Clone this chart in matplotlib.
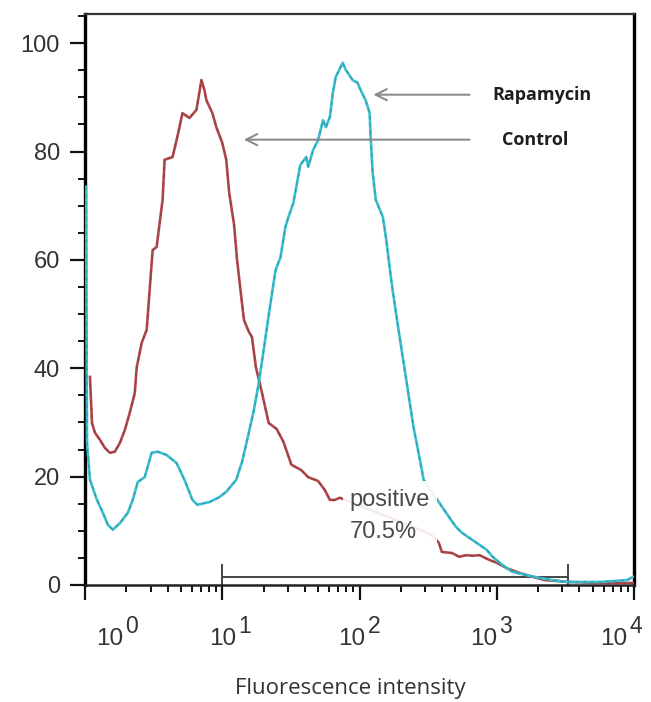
import numpy as np
import matplotlib
matplotlib.use('Agg')
import matplotlib.pyplot as plt
from matplotlib.ticker import FixedLocator, MultipleLocator, NullFormatter

# control (red) histogram
control_x = [1.087, 1.124, 1.181, 1.284, 1.396, 1.518, 1.649, 1.793, 1.949, 2.119,
             2.303, 2.381, 2.588, 2.814, 2.958, 3.110, 3.325, 3.675, 3.800, 4.130,
             4.345, 4.645, 4.876, 5.129, 5.768, 6.486, 7.047, 7.410, 7.655, 8.472,
             9.057, 10.0, 10.69, 11.23, 12.19, 12.82, 13.71, 14.39, 15.64, 16.44,
             17.58, 19.42, 21.79, 24.89, 27.94, 31.88, 37.64, 42.28, 49.89, 55.99,
             60.83, 66.07, 71.78, 302.9, 335.5, 378.0, 398.1, 472.3, 532.2, 599.8,
             664.0, 748.5, 887.4, 1000, 1183, 1472, 1832, 2240, 3410, 5650, 10000]
control_y = [38.4, 29.9, 28.1, 26.8, 25.3, 24.4, 24.6, 26.2, 28.6, 31.8,
             35.4, 40.2, 44.7, 47.1, 54.5, 61.8, 62.4, 71.1, 78.5, 78.8,
             79.0, 82.1, 84.5, 87.1, 86.2, 87.7, 93.2, 91.4, 89.5, 87.1,
             84.5, 81.6, 78.5, 72.4, 66.5, 60.0, 53.5, 48.9, 46.7, 45.8,
             40.2, 35.6, 29.9, 28.8, 26.4, 22.2, 21.2, 19.9, 19.2, 17.5,
             15.7, 15.7, 16.1, 9.8, 9.2, 7.8, 6.1, 5.9, 5.2, 5.5,
             5.4, 5.5, 4.6, 4.1, 3.1, 2.2, 1.5, 0.9, 0.55, 0.37, 0.37]

# rapamycin (cyan) histogram
rapa_x = [1.017, 1.034, 1.087, 1.222, 1.350, 1.468, 1.595, 1.793, 2.049, 2.227,
          2.421, 2.721, 3.059, 3.381, 3.928, 4.643, 5.306, 6.065, 6.592, 8.054,
          9.510, 10.69, 12.62, 13.93, 15.64, 16.99, 18.45, 20.04, 21.79, 24.45,
          26.56, 28.84, 30.33, 32.96, 36.99, 40.89, 42.28, 45.93, 49.89, 54.22,
          56.94, 60.83, 63.91, 67.16, 75.46, 79.30, 89.13, 96.80, 101.7, 110.7,
          118.5, 120.5, 124.7, 131.4, 148.0, 155.9, 166.8, 175.5, 191.1, 208.2,
          226.8, 247.1, 269.2, 293.3, 464.2, 505.8, 559.8, 630.6, 748.5, 843.3,
          933.3, 1052, 1183, 1309, 1657, 2061, 2564, 3244, 5650, 8892, 9840]
rapa_y = [73.5, 26.2, 19.4, 15.7, 13.3, 11.1, 10.2, 11.4, 13.3, 15.7,
          19.0, 19.9, 24.4, 24.6, 24.0, 22.5, 19.4, 15.7, 14.8, 15.3,
          16.2, 17.2, 19.4, 22.7, 28.2, 32.3, 37.3, 43.4, 49.8, 58.1,
          60.5, 66.1, 67.9, 70.5, 77.5, 79.0, 77.2, 80.3, 82.1, 85.8,
          84.5, 86.4, 90.8, 93.8, 96.4, 95.1, 93.2, 92.7, 91.4, 89.5,
          87.1, 82.7, 76.1, 71.1, 67.9, 64.1, 58.1, 53.9, 47.6, 41.5,
          35.4, 29.2, 24.4, 19.4, 12.0, 10.7, 9.6, 8.7, 7.4, 6.5,
          5.2, 4.1, 3.1, 2.4, 1.8, 1.3, 0.9, 0.55, 0.55, 0.9, 1.5]

gate_range = [10, 3300]
gate_label = "positive\n70.5%"
x_ticks = [1, 10, 100, 1000, 10000]
x_exponents = ['0', '1', '2', '3', '4']
y_ticks = [0, 20, 40, 60, 80, 100]

plt.rcParams['font.family'] = ['Liberation Sans', 'DejaVu Sans']

fig = plt.figure(figsize=(6.51, 7.02), dpi=100)
ax = fig.add_axes([0.1306, 0.1667, 0.8433, 0.8134])

# coloured traces with a faint darker dash on top (scanned look)
ax.plot(control_x, control_y, color='#b3484c', lw=1.9, zorder=3)
ax.plot(control_x, control_y, color='#5a3a3a', lw=0.9, dashes=(3, 3), alpha=0.45, zorder=3)
ax.plot(rapa_x, rapa_y, color='#3ac0d0', lw=1.9, zorder=3)
ax.plot(rapa_x, rapa_y, color='#2d6f78', lw=0.9, dashes=(3, 3), alpha=0.45, zorder=3)

ax.set_xscale('log')
ax.set_xlim(1, 10000)
ax.set_ylim(0, 105.4)

# gate bracket
ax.plot(gate_range, [1.5, 1.5], color='#444444', lw=1.4, zorder=2)
for gx in gate_range:
    ax.plot([gx, gx], [0, 3.7], color='#444444', lw=1.4, zorder=2)

ax.text(84.7, 17.8, gate_label, fontsize=17, color='#4a4a4a', va='top', ha='left',
        linespacing=1.6, zorder=5,
        bbox=dict(boxstyle='square,pad=0.3', fc='white', ec='none', alpha=0.9))

arrow = dict(arrowstyle='->', color='#8c8c8c', lw=1.5, mutation_scale=20)
ax.annotate('', xy=(120.5, 90.5), xytext=(664, 90.5), arrowprops=arrow)
ax.annotate('', xy=(13.7, 82.2), xytext=(664, 82.2), arrowprops=arrow)
ax.text(933, 90.5, 'Rapamycin', fontsize=13, fontweight='bold', family='Open Sans',
        color='#1e1e1e', va='center', ha='left')
ax.text(1089, 82.2, 'Control', fontsize=13, fontweight='bold', family='Open Sans',
        color='#1e1e1e', va='center', ha='left')

ax.xaxis.set_major_locator(FixedLocator(x_ticks))
ax.xaxis.set_major_formatter(NullFormatter())
ax.xaxis.set_minor_locator(FixedLocator(
    [m * 10 ** d for d in range(4) for m in range(2, 10)]))
ax.xaxis.set_minor_formatter(NullFormatter())
ax.set_yticks(y_ticks)
ax.yaxis.set_minor_locator(MultipleLocator(5))

ax.tick_params(axis='both', which='major', direction='out', length=11, width=1.6,
               color='#111111', labelsize=17, labelcolor='#333333')
ax.tick_params(axis='both', which='minor', direction='out', length=5, width=1.4,
               color='#111111')
ax.tick_params(axis='y', which='major', pad=7)

# x tick labels drawn as "10" with a full-size raised exponent, shifted like the original
label_nudge = [38, 14, 6, 0, -7]  # px, right edge of "10" relative to the tick
for xt, ex, dx in zip(x_ticks, x_exponents, label_nudge):
    ax.annotate('10', xy=(xt, 0), xycoords=('data', 'axes fraction'),
                xytext=(dx * 0.72, -60 * 0.72), textcoords='offset points',
                ha='right', va='baseline', fontsize=17.5, color='#333333',
                annotation_clip=False)
    ax.annotate(ex, xy=(xt, 0), xycoords=('data', 'axes fraction'),
                xytext=((dx + 2) * 0.72, -48 * 0.72), textcoords='offset points',
                ha='left', va='baseline', fontsize=16.5, color='#333333',
                annotation_clip=False)

for side in ['left', 'right']:
    ax.spines[side].set_linewidth(2.4)
    ax.spines[side].set_color('black')
ax.spines['top'].set_linewidth(1.6)
ax.spines['top'].set_color('#333333')
ax.spines['bottom'].set_linewidth(1.8)
ax.spines['bottom'].set_color('#222222')

ax.set_xlabel('Fluorescence intensity', fontsize=16, family='Open Sans', color='#333333')
ax.xaxis.set_label_coords(0.483, -0.163)

fig.savefig('out.png', dpi=100)
